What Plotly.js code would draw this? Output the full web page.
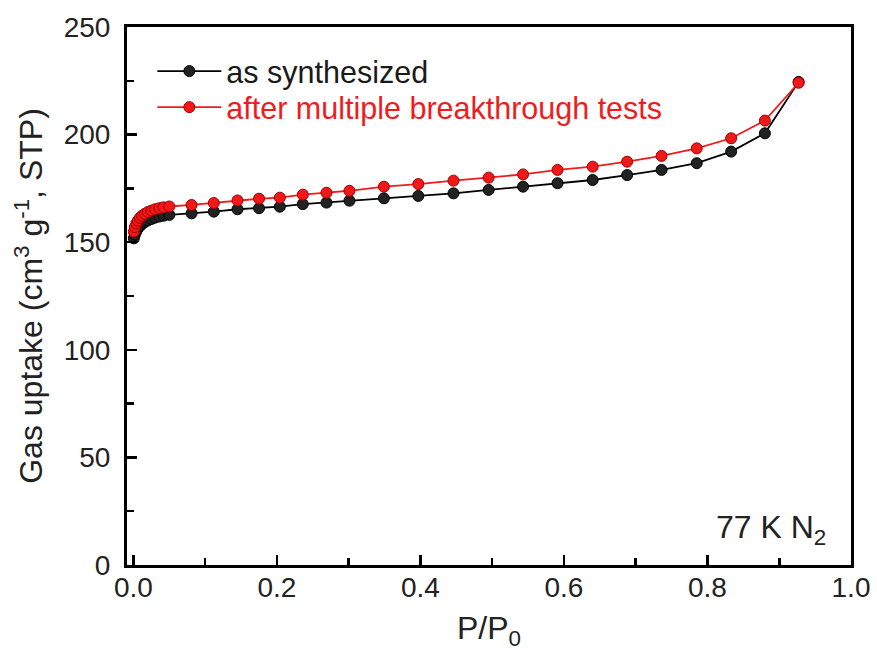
<!DOCTYPE html>
<html>
<head>
<meta charset="utf-8">
<script src="https://cdn.plot.ly/plotly-3.0.1.min.js"></script>
<style>html,body{margin:0;padding:0;background:#fff;}#chart{width:877px;height:664px;}</style>
</head>
<body>
<div id="chart"></div>
<script>
// Relative pressure P/P0
var pressure = [0.0005, 0.002, 0.004, 0.006, 0.009, 0.012, 0.016, 0.020, 0.025, 0.030, 0.036, 0.042, 0.050,
  0.081, 0.112, 0.145, 0.175, 0.204, 0.236, 0.269, 0.301, 0.349, 0.397, 0.446, 0.495, 0.543, 0.591,
  0.640, 0.688, 0.736, 0.785, 0.833, 0.880, 0.927];
// Gas uptake (cm3 g-1, STP)
var asSynthesized = [151.8, 153.5, 155.0, 156.3, 157.5, 158.5, 159.4, 160.1, 160.8, 161.4, 161.9, 162.3, 162.7,
  163.4, 164.2, 165.3, 165.8, 166.5, 167.7, 168.4, 169.3, 170.4, 171.5, 172.7, 174.3, 175.8, 177.4,
  178.9, 181.2, 183.6, 186.7, 192.1, 200.6, 224.5];
var afterBreakthrough = [154.9, 157.0, 158.7, 160.0, 161.3, 162.3, 163.2, 164.0, 164.7, 165.3, 165.8, 166.2, 166.6,
  167.3, 168.2, 169.4, 170.2, 170.7, 172.1, 173.0, 173.9, 175.8, 177.0, 178.6, 180.0, 181.5, 183.6,
  185.1, 187.4, 190.1, 193.6, 198.3, 206.5, 224.1];
var seriesNames = ["as synthesized", "after multiple breakthrough tests"];
var xTickVals = [0, 0.2, 0.4, 0.6, 0.8, 1.0];
var xTickText = ["0.0", "0.2", "0.4", "0.6", "0.8", "1.0"];
var yTickVals = [0, 50, 100, 150, 200, 250];

var FONT = "Liberation Sans, Arial, sans-serif";

var traces = [
  {
    x: pressure, y: asSynthesized, type: "scatter", mode: "lines+markers",
    name: seriesNames[0], legend: "legend",
    line: {color: "#000000", width: 1.8},
    marker: {symbol: "circle", size: 11, color: "#222222", line: {color: "#000000", width: 1}}
  },
  {
    x: pressure, y: afterBreakthrough, type: "scatter", mode: "lines+markers",
    name: seriesNames[1], legend: "legend2",
    line: {color: "#ee1c1c", width: 1.8},
    marker: {symbol: "circle", size: 11, color: "#f01818", line: {color: "#a00000", width: 1}}
  }
];

var axisCommon = {
  showline: true, linecolor: "#000", linewidth: 3, mirror: true,
  ticks: "inside", ticklen: 10, tickwidth: 2.5, tickcolor: "#000",
  showgrid: false, zeroline: false,
  tickfont: {family: FONT, size: 28, color: "#222"}
};

function legendBox(y, color) {
  return {
    x: 0.035, y: y, xanchor: "left", yanchor: "top",
    bgcolor: "rgba(0,0,0,0)", borderwidth: 0,
    itemwidth: 64, tracegroupgap: 0,
    font: {family: FONT, size: 30.5, color: color}
  };
}

var layout = {
  width: 877, height: 664,
  margin: {l: 127, r: 26, t: 27, b: 99},
  paper_bgcolor: "#fff", plot_bgcolor: "#fff",
  showlegend: true,
  legend: legendBox(0.967, "#1a1a1a"),
  legend2: legendBox(0.900, "#ee1c1c"),
  xaxis: Object.assign({}, axisCommon, {
    range: [-0.009, 1.0],
    tickvals: xTickVals, ticktext: xTickText,
    minor: {dtick: 0.1, tick0: 0, ticks: "inside", ticklen: 7, tickwidth: 2.5, tickcolor: "#000"},
    ticklabelstandoff: -5,
    title: {text: "P/P<sub>0</sub>", font: {family: FONT, size: 32, color: "#222"}, standoff: 16}
  }),
  yaxis: Object.assign({}, axisCommon, {
    range: [0, 250],
    tickvals: yTickVals,
    minor: {dtick: 25, tick0: 0, ticks: "inside", ticklen: 7, tickwidth: 2.5, tickcolor: "#000"},
    ticklabelstandoff: 8,
    title: {text: "Gas uptake (cm<sup>3</sup> g<sup>-1</sup>, STP)", font: {family: FONT, size: 32, color: "#222"}, standoff: 12}
  }),
  annotations: [{
    xref: "paper", yref: "paper", x: 0.968, y: 0.024, xanchor: "right", yanchor: "bottom",
    text: "77 K N<sub>2</sub>", showarrow: false,
    font: {family: FONT, size: 32, color: "#222"}
  }]
};

Plotly.newPlot("chart", traces, layout, {displayModeBar: false, staticPlot: true});
</script>
</body>
</html>
